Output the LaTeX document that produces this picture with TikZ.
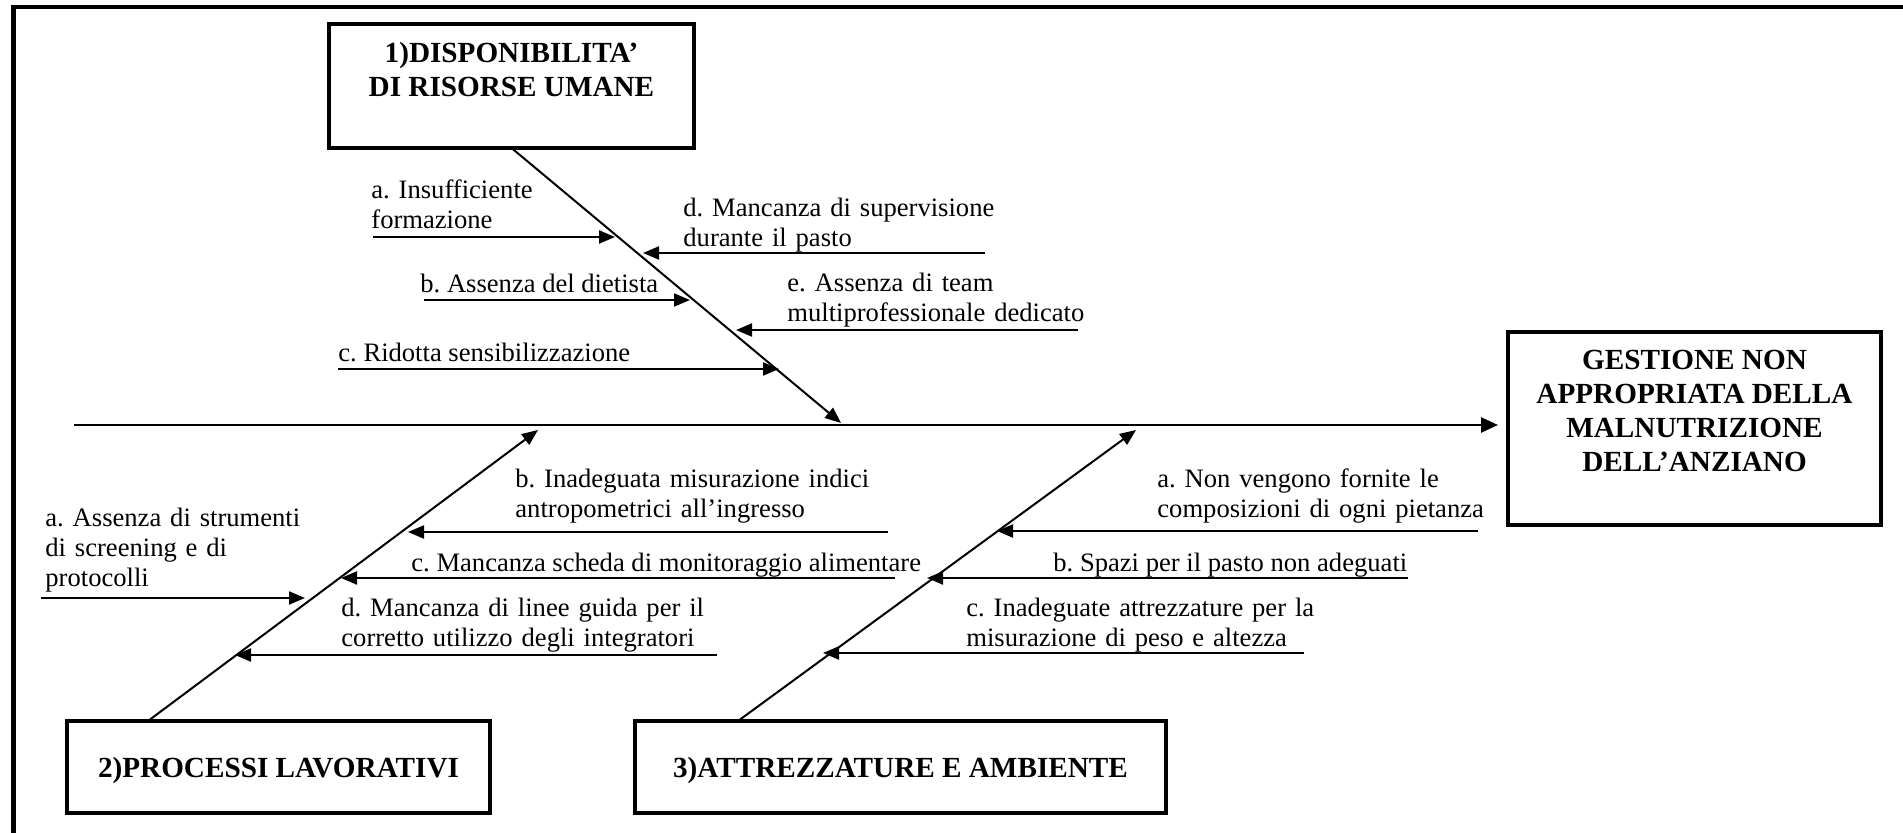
\documentclass[tikz,border=0pt]{standalone}
\usepackage{fontspec}
\setmainfont{Liberation Serif}
\usetikzlibrary{arrows.meta}
\begin{document}
\begin{tikzpicture}[x=0.5pt,y=-0.5pt,
  lbl/.style={anchor=base west, inner sep=0pt, font=\fontsize{13.3pt}{15pt}\selectfont\frenchspacing, align=left},
  mlbl/.style={lbl, text width=#1},
  titlebox/.style={draw, line width=2.2pt, inner sep=0pt, outer sep=0pt, anchor=north west, font=\fontsize{14.6pt}{17pt}\selectfont\bfseries\frenchspacing},
  branch/.style={line width=1.1pt, -{Triangle[length=8pt,width=6.5pt]}},
  bone/.style={line width=1pt, -{Triangle[length=8pt,width=6.5pt]}},
  spine/.style={line width=1.3pt, -{Triangle[length=8.5pt,width=7.5pt]}},
  frame/.style={line width=2.3pt}]
\useasboundingbox (0,0) rectangle (1903,833);
\begin{scope}
\clip (0,0) rectangle (1903,833);
\draw[frame] (13.5,7) rectangle (1950,880);
\end{scope}

% cause boxes and effect box
\node[titlebox] (c1) at (329,24) {\parbox[c][62pt][t]{182.5pt}{\centering\rule{0pt}{19.5pt}1)DISPONIBILITA’\\DI RISORSE UMANE}};
\node[titlebox] (effect) at (1508,332) {\parbox[c][96.5pt][t]{186.5pt}{\centering\rule{0pt}{19pt}GESTIONE NON\\APPROPRIATA DELLA\\MALNUTRIZIONE\\DELL’ANZIANO}};
\node[titlebox] (c2) at (67,721) {\parbox[c][46pt][t]{211.5pt}{\centering\rule{0pt}{28.5pt}2)PROCESSI LAVORATIVI}};
\node[titlebox] (c3) at (635,721) {\parbox[c][46pt][t]{265.5pt}{\centering\rule{0pt}{28.5pt}3)ATTREZZATURE E AMBIENTE}};

% spine and bones
\coordinate (sp) at (74,425);
\draw[spine, shorten >=5pt] (sp) -- (sp -| effect.west);
\coordinate (j1) at (841,423);
\coordinate (j2) at (538,430);
\coordinate (j3) at (1136,430);
\draw[bone] (c1.south) -- (j1);
\draw[bone] ([xshift=40.5pt]c2.north west) -- (j2);
\draw[bone] ([xshift=51.5pt]c3.north west) -- (j3);

% branch end points
\coordinate (a1s) at (373,237);  \coordinate (a1e) at (615,237);
\coordinate (b1s) at (424,300);  \coordinate (b1e) at (690,300);
\coordinate (c1s) at (338,369);  \coordinate (c1e) at (779,369);
\coordinate (d1s) at (985,253);  \coordinate (d1e) at (643,253);
\coordinate (e1s) at (1078,330); \coordinate (e1e) at (736,330);
\coordinate (a2s) at (41,598);   \coordinate (a2e) at (305,598);
\coordinate (b2s) at (888,532);  \coordinate (b2e) at (408,532);
\coordinate (c2s) at (895,578);  \coordinate (c2e) at (341,578);
\coordinate (d2s) at (717,655);  \coordinate (d2e) at (235,655);
\coordinate (a3s) at (1478,531); \coordinate (a3e) at (997,531);
\coordinate (b3s) at (1408,578); \coordinate (b3e) at (927,578);
\coordinate (c3s) at (1304,653); \coordinate (c3e) at (823,653);

\foreach \p in {a1,b1,c1,d1,e1,a2,b2,c2,d2,a3,b3,c3}
  \draw[branch] (\p s) -- (\p e);

% labels, group 1
\node[mlbl=150pt] (t1a) at (371,199) {a. Insufficiente\\formazione};
\node[lbl] (t1b) at (420,293) {b. Assenza del dietista};
\node[lbl] (t1c) at (338,362) {c. Ridotta sensibilizzazione};
\node[mlbl=200pt] (t1d) at (683,217) {d. Mancanza di supervisione\\durante il pasto};
\node[mlbl=200pt] (t1e) at (787,292) {e. Assenza di team\\multiprofessionale dedicato};

% labels, group 2
\node[mlbl=150pt] (t2a) at (45,527) {a. Assenza di strumenti\\di screening e di\\protocolli};
\node[mlbl=200pt] (t2b) at (515,488) {\makebox[186.5pt][s]{b. Inadeguata misurazione indici}\\antropometrici all’ingresso};
\node[lbl] (t2c) at (411,572) {c. Mancanza scheda di monitoraggio alimentare};
\node[mlbl=200pt] (t2d) at (341,617) {\makebox[188pt][s]{d. Mancanza di linee guida per il}\\corretto utilizzo degli integratori};

% labels, group 3
\node[mlbl=200pt] (t3a) at (1157,488) {a. Non vengono fornite le\\composizioni di ogni pietanza};
\node[lbl] (t3b) at (1053,572) {b. Spazi per il pasto non adeguati};
\node[mlbl=200pt] (t3c) at (966,617) {c. Inadeguate attrezzature per la\\misurazione di peso e altezza};
\end{tikzpicture}
\end{document}
